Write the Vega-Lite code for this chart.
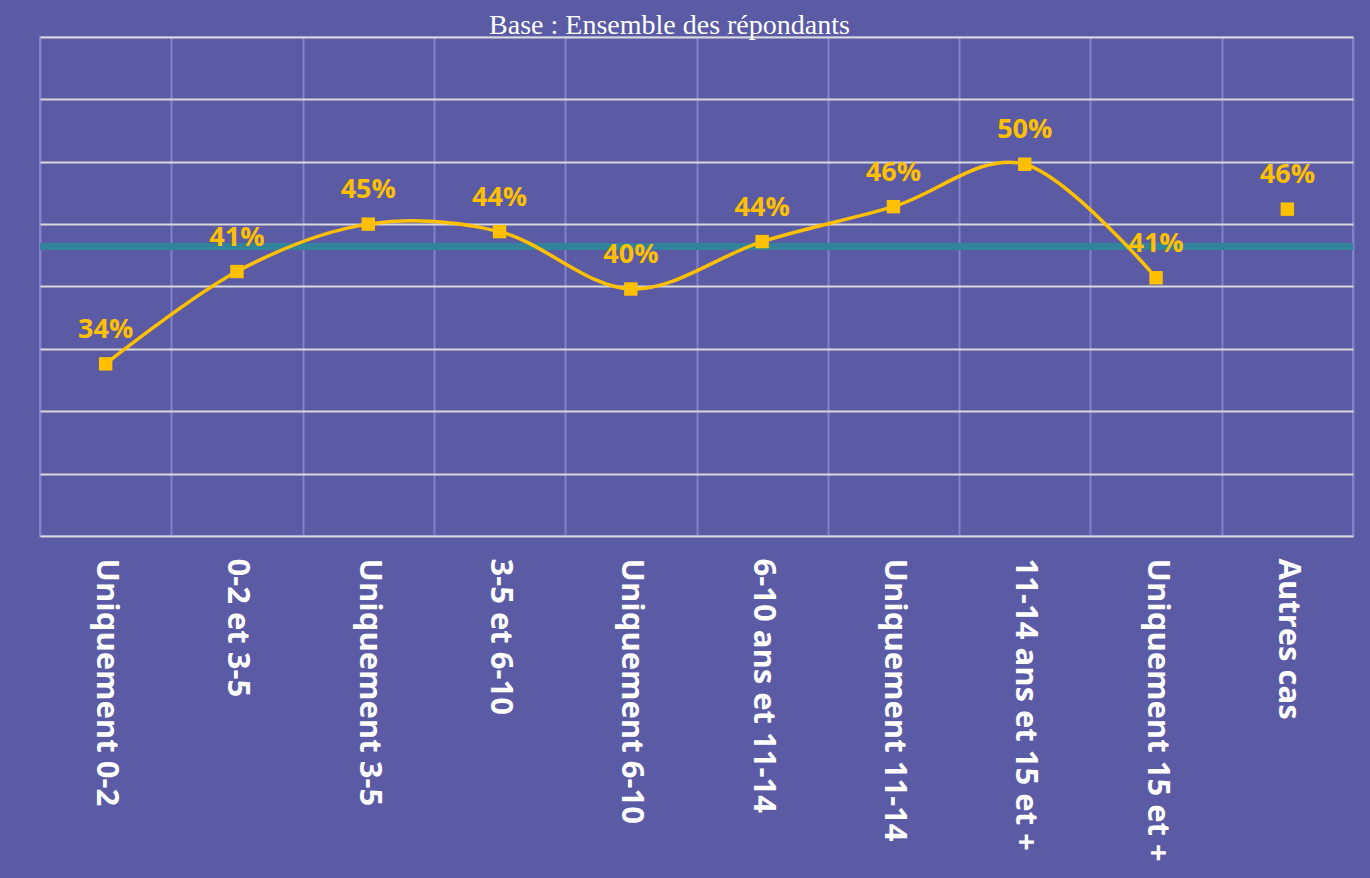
{
  "$schema": "https://vega.github.io/schema/vega-lite/v6.json",
  "autosize": {"type": "none"},
  "width": 1313,
  "height": 499,
  "padding": {"left": 40, "top": 37, "right": 17, "bottom": 342},
  "background": "#5A5AA5",
  "title": {
    "text": "Base : Ensemble des répondants",
    "font": "Liberation Serif",
    "fontSize": 28,
    "fontWeight": "normal",
    "color": "#FFFFFF",
    "anchor": "middle",
    "dx": -27,
    "offset": -3
  },
  "config": {
    "view": {"stroke": "#8080CC", "strokeWidth": 2},
    "axis": {"domain": false, "ticks": false, "title": null}
  },
  "data": {
    "values": [
      {"cat": "Uniquement 0-2", "pct": 0.338},
      {"cat": "0-2 et 3-5", "pct": 0.412},
      {"cat": "Uniquement 3-5", "pct": 0.45},
      {"cat": "3-5 et 6-10", "pct": 0.444},
      {"cat": "Uniquement 6-10", "pct": 0.398},
      {"cat": "6-10 ans et 11-14", "pct": 0.436},
      {"cat": "Uniquement 11-14", "pct": 0.464},
      {"cat": "11-14 ans et 15 et +", "pct": 0.498},
      {"cat": "Uniquement 15 et +", "pct": 0.407},
      {"cat": "Autres cas", "pct": 0.462}
    ]
  },
  "layer": [
    {
      "mark": {"type": "point", "opacity": 0},
      "encoding": {
        "x": {
          "field": "cat", "type": "nominal", "sort": null,
          "scale": {"paddingInner": 0, "paddingOuter": 0},
          "axis": {
            "grid": true, "gridColor": "#8080CC", "gridWidth": 2, "tickBand": "extent",
            "labelAngle": 90, "labelAlign": "left", "labelBaseline": "middle",
            "labelFont": "Open Sans", "labelFontSize": 31, "labelFontWeight": "bold",
            "labelColor": "#FFFFFF", "labelPadding": 22, "labelLimit": 0
          }
        },
        "y": {
          "field": "pct", "type": "quantitative",
          "scale": {"domain": [0.2, 0.6], "nice": false, "zero": false},
          "axis": {
            "grid": true, "gridColor": "#D9D9D9", "gridWidth": 2, "labels": false,
            "values": [0.2, 0.25, 0.3, 0.35, 0.4, 0.45, 0.5, 0.55, 0.6]
          }
        }
      }
    },
    {
      "data": {"values": [{"moyenne": 0.432}]},
      "mark": {"type": "rule", "color": "#31849B", "strokeWidth": 7},
      "encoding": {
        "y": {"field": "moyenne", "type": "quantitative", "scale": {"domain": [0.2, 0.6], "nice": false, "zero": false}}
      }
    },
    {
      "transform": [{"filter": "datum.cat !== 'Autres cas'"}],
      "mark": {"type": "line", "color": "#FFC000", "strokeWidth": 3.5, "interpolate": "cardinal"},
      "encoding": {
        "x": {"field": "cat", "type": "nominal", "sort": null},
        "y": {"field": "pct", "type": "quantitative"}
      }
    },
    {
      "mark": {"type": "point", "shape": "square", "filled": true, "color": "#FFC000", "size": 180, "opacity": 1},
      "encoding": {
        "x": {"field": "cat", "type": "nominal", "sort": null},
        "y": {"field": "pct", "type": "quantitative"}
      }
    },
    {
      "mark": {"type": "text", "color": "#FFC000", "font": "Open Sans", "fontSize": 27, "fontWeight": "bold", "baseline": "alphabetic", "dy": -26},
      "encoding": {
        "x": {"field": "cat", "type": "nominal", "sort": null},
        "y": {"field": "pct", "type": "quantitative"},
        "text": {"field": "pct", "type": "quantitative", "format": ".0%"}
      }
    }
  ]
}
